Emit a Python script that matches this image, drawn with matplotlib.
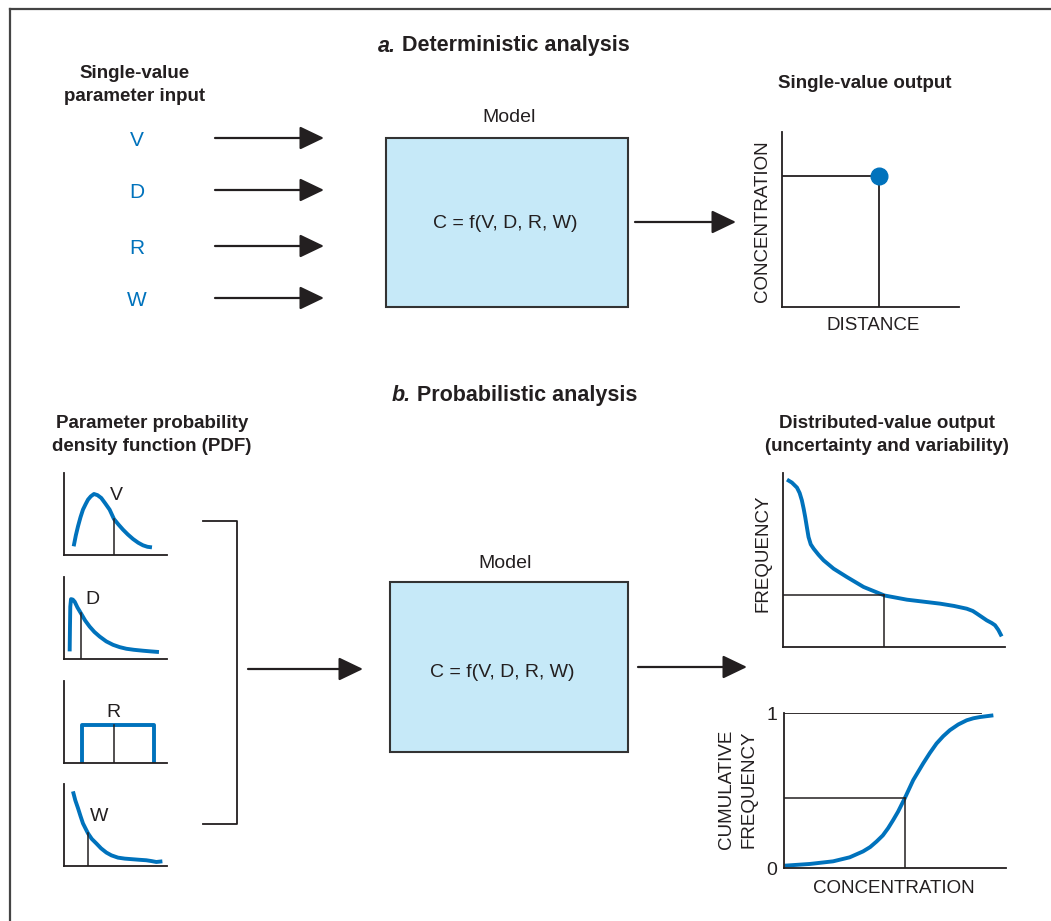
import matplotlib
matplotlib.use("Agg")
import matplotlib.pyplot as plt
from matplotlib.patches import Rectangle

plt.rcParams['font.family'] = ['Liberation Sans', 'DejaVu Sans']

W, H = 1051, 921
BLUE = '#0072BC'
INK = '#231F20'
BOX = '#C6E9F8'

# ---- data (local units of each small chart) ----
params = ['V', 'D', 'R', 'W']

# single-value output point (distance, concentration)
single_x = 55
single_y = 75

# PDF curves
v_x = [9.4, 11.5, 13.6, 16, 18.4, 21, 23.3, 26, 29.1, 32.5, 36.2, 40, 44.3, 48.5,
       53, 57.3, 62, 67, 72, 76.7, 81, 85.4]
v_y = [10.6, 24, 35, 46, 55.3, 62, 67.5, 71.5, 74.4, 73, 69.5, 63, 55.3, 43.9,
       37, 30.9, 25, 19.5, 15, 11.8, 10, 9.3]
v_mark = 48.5

d_x = [5.5, 5.8, 6.1, 6.8, 8.5, 10.4, 13, 16.5, 20.5, 24.9, 29.5, 34.6, 41,
       47.6, 54, 60.5, 68, 76.7, 84, 92.2]
d_y = [9.3, 39.5, 63.7, 73, 72.5, 69.8, 63, 55.6, 47, 39.5, 33, 27.4, 21.5,
       17.3, 14.5, 12.5, 11.2, 10.1, 9.3, 8.5]
d_mark = 16.5

r_left, r_right, r_height = 17.8, 87.4, 46
r_mark = 48.2

w_x = [8.7, 11, 13.6, 16, 18.4, 21, 23.3, 27, 31.4, 36, 41.1, 46, 52.4, 59,
       67, 73, 79.9, 85, 89.6, 95.5]
w_y = [91, 80, 70.5, 61, 52, 45.5, 39.8, 33, 27.5, 21.5, 16.4, 13, 10.2, 9,
       8.2, 7.6, 7, 6, 4.9, 5.7]
w_mark = 23.3

# output frequency curve
f_x = [1.8, 4, 6.3, 7.5, 8.5, 9.3, 10, 10.8, 11.5, 12.5, 13.8, 16, 18.3, 22.8,
       28.8, 36.3, 45.7, 55.8, 63, 70.8, 77, 82.8, 85.5, 87.3, 89.5, 91.8,
       94, 95.5, 97, 98.5]
f_y = [96.2, 94.5, 91.6, 88.5, 84.3, 79.5, 74.7, 68.5, 63.2, 59, 56.5, 53,
       49.8, 45, 40.2, 34.5, 29.6, 27.2, 26.1, 24.9, 23.6, 22, 20.7, 19.2, 17.3,
       15.3, 13.8, 12.5, 9.8, 6.1]
f_mark = 45.7

# cumulative frequency curve
c_x = [0.3, 11.6, 22.1, 29.6, 35.6, 38.8, 41.7, 44.5, 46.9, 49.2, 51.4, 54.4,
       58.2, 62.7, 65.7, 68.7, 71.7, 74.7, 78.5, 82.3, 85.3, 88.3, 94.3]
c_y = [0.015, 0.026, 0.043, 0.069, 0.107, 0.135, 0.171, 0.21, 0.257, 0.31,
       0.364, 0.45, 0.567, 0.675, 0.742, 0.803, 0.85, 0.889, 0.926, 0.953,
       0.966, 0.974, 0.985]
c_mark = 54.4

fig = plt.figure(figsize=(W / 100, H / 100), dpi=100)
base = fig.add_axes([0, 0, 1, 1])
base.set_xlim(0, W)
base.set_ylim(H, 0)
base.axis('off')


def inset(x0, y0, x1, y1, ylim=(0, 100)):
    # pixel box (top-left origin) -> figure axes
    ax = fig.add_axes([x0 / W, 1 - y1 / H, (x1 - x0) / W, (y1 - y0) / H])
    ax.set_xlim(0, 100)
    ax.set_ylim(*ylim)
    ax.patch.set_alpha(0)
    for s in ['top', 'right']:
        ax.spines[s].set_visible(False)
    for s in ['left', 'bottom']:
        ax.spines[s].set_color(INK)
        ax.spines[s].set_linewidth(1.3)
    ax.set_xticks([])
    ax.set_yticks([])
    return ax


def arrow(x0, x1, y):
    base.annotate('', xy=(x1, y), xytext=(x0, y),
                  arrowprops=dict(arrowstyle='-|>,head_length=0.75,head_width=0.36',
                                  mutation_scale=20, color=INK, lw=1.6,
                                  shrinkA=0, shrinkB=0))


def title(x, y, letter, rest):
    t = base.text(x, y, letter, fontsize=15.5, fontweight='bold', fontstyle='italic',
                  ha='left', va='center', color=INK)
    base.annotate(' ' + rest, xy=(1, 0.5), xycoords=t, fontsize=15.5,
                  fontweight='bold', ha='left', va='center', color=INK)


# outer frame (top and left edges)
base.plot([10, W], [9, 9], color='#444444', lw=1.6)
base.plot([10, 10], [9, H], color='#444444', lw=1.6)

# ---- a. deterministic ----
title(378, 46, 'a.', 'Deterministic analysis')
base.text(135, 85, 'Single-value\nparameter input', fontsize=13.5, fontweight='bold',
          ha='center', va='center', color=INK, linespacing=1.4)

for i, p in enumerate(params):
    ys = [138, 190, 246, 298][i]
    base.text(137, ys + 2, p, fontsize=15, color=BLUE, ha='center', va='center')
    arrow(215, 324, ys)

base.add_patch(Rectangle((386, 138), 242, 169, facecolor=BOX, edgecolor='#333333', lw=1.5))
base.text(509, 118, 'Model', fontsize=14, ha='center', va='center', color=INK)
base.text(505, 223, 'C = f(V, D, R, W)', fontsize=14, ha='center', va='center', color=INK)
arrow(635, 736, 222)

base.text(865, 83, 'Single-value output', fontsize=13.5, fontweight='bold',
          ha='center', va='center', color=INK)
ax_s = inset(782, 132, 959, 307)
ax_s.plot([0, single_x], [single_y, single_y], color=INK, lw=1.3)
ax_s.plot([single_x, single_x], [0, single_y], color=INK, lw=1.3)
ax_s.plot([single_x], [single_y], 'o', color=BLUE, ms=12, clip_on=False)
base.text(763, 221, 'CONCENTRATION', fontsize=13.5, rotation=90,
          ha='center', va='center', color=INK)
base.text(873, 325, 'DISTANCE', fontsize=13.5, ha='center', va='center', color=INK)

# ---- b. probabilistic ----
title(392, 395, 'b.', 'Probabilistic analysis')
base.text(152, 435, 'Parameter probability\ndensity function (PDF)', fontsize=13.5,
          fontweight='bold', ha='center', va='center', color=INK, linespacing=1.4)

mark_kw = dict(color=INK, lw=1.1)
curve_kw = dict(color=BLUE, lw=2.8, solid_capstyle='butt', solid_joinstyle='round')

ax_v = inset(64, 473, 167, 555)
ax_v.plot(v_x, v_y, **curve_kw)
ax_v.plot([v_mark, v_mark], [0, v_y[v_x.index(v_mark)]], **mark_kw)
ax_v.text(51, 72, 'V', fontsize=14, ha='center', va='center', color=INK)

ax_d = inset(64, 577, 167, 659)
ax_d.plot(d_x, d_y, **curve_kw)
ax_d.plot([d_mark, d_mark], [0, d_y[d_x.index(d_mark)]], **mark_kw)
ax_d.text(28, 72, 'D', fontsize=14, ha='center', va='center', color=INK)

ax_r = inset(64, 681, 167, 763)
ax_r.plot([r_left, r_left, r_right, r_right], [0, r_height, r_height, 0],
          color=BLUE, lw=2.8)
ax_r.plot([r_mark, r_mark], [0, r_height], **mark_kw)
ax_r.text(48, 62, 'R', fontsize=14, ha='center', va='center', color=INK)

ax_w = inset(64, 784, 167, 866)
ax_w.plot(w_x, w_y, **curve_kw)
ax_w.plot([w_mark, w_mark], [0, w_y[w_x.index(w_mark)]], **mark_kw)
ax_w.text(34, 60, 'W', fontsize=14, ha='center', va='center', color=INK)

# bracket and arrows
base.plot([203, 237, 237, 203], [521, 521, 824, 824], color=INK, lw=1.3)
arrow(248, 363, 669)

base.add_patch(Rectangle((390, 582), 238, 170, facecolor=BOX, edgecolor='#333333', lw=1.5))
base.text(505, 563, 'Model', fontsize=14, ha='center', va='center', color=INK)
base.text(502, 672, 'C = f(V, D, R, W)', fontsize=14, ha='center', va='center', color=INK)
arrow(638, 747, 667)

base.text(887, 435, 'Distributed-value output\n(uncertainty and variability)', fontsize=13.5,
          fontweight='bold', ha='center', va='center', color=INK, linespacing=1.4)

ax_f = inset(783, 473, 1005, 647)
ax_f.plot(f_x, f_y, **curve_kw)
f_h = f_y[f_x.index(f_mark)]
ax_f.plot([0, f_mark], [f_h, f_h], **mark_kw)
ax_f.plot([f_mark, f_mark], [0, f_h], **mark_kw)
base.text(763, 553, 'FREQUENCY', fontsize=13.5, rotation=90,
          ha='center', va='center', color=INK)

ax_c = inset(784, 713, 1006, 868, ylim=(0, 1))
ax_c.plot([0, 88.7], [1, 1], color=INK, lw=1.3)
ax_c.plot(c_x, c_y, **curve_kw)
c_h = c_y[c_x.index(c_mark)]
ax_c.plot([0, c_mark], [c_h, c_h], **mark_kw)
ax_c.plot([c_mark, c_mark], [0, c_h], **mark_kw)
ax_c.set_yticks([0, 1])
ax_c.set_yticklabels(['0', '1'], fontsize=14, color=INK)
ax_c.tick_params(axis='y', length=0, pad=5)
base.text(738, 789, 'CUMULATIVE\nFREQUENCY', fontsize=13.5, rotation=90,
          ha='center', va='center', color=INK, linespacing=1.45)
base.text(894, 888, 'CONCENTRATION', fontsize=13.5, ha='center', va='center', color=INK)

fig.savefig('out.png', dpi=100)
